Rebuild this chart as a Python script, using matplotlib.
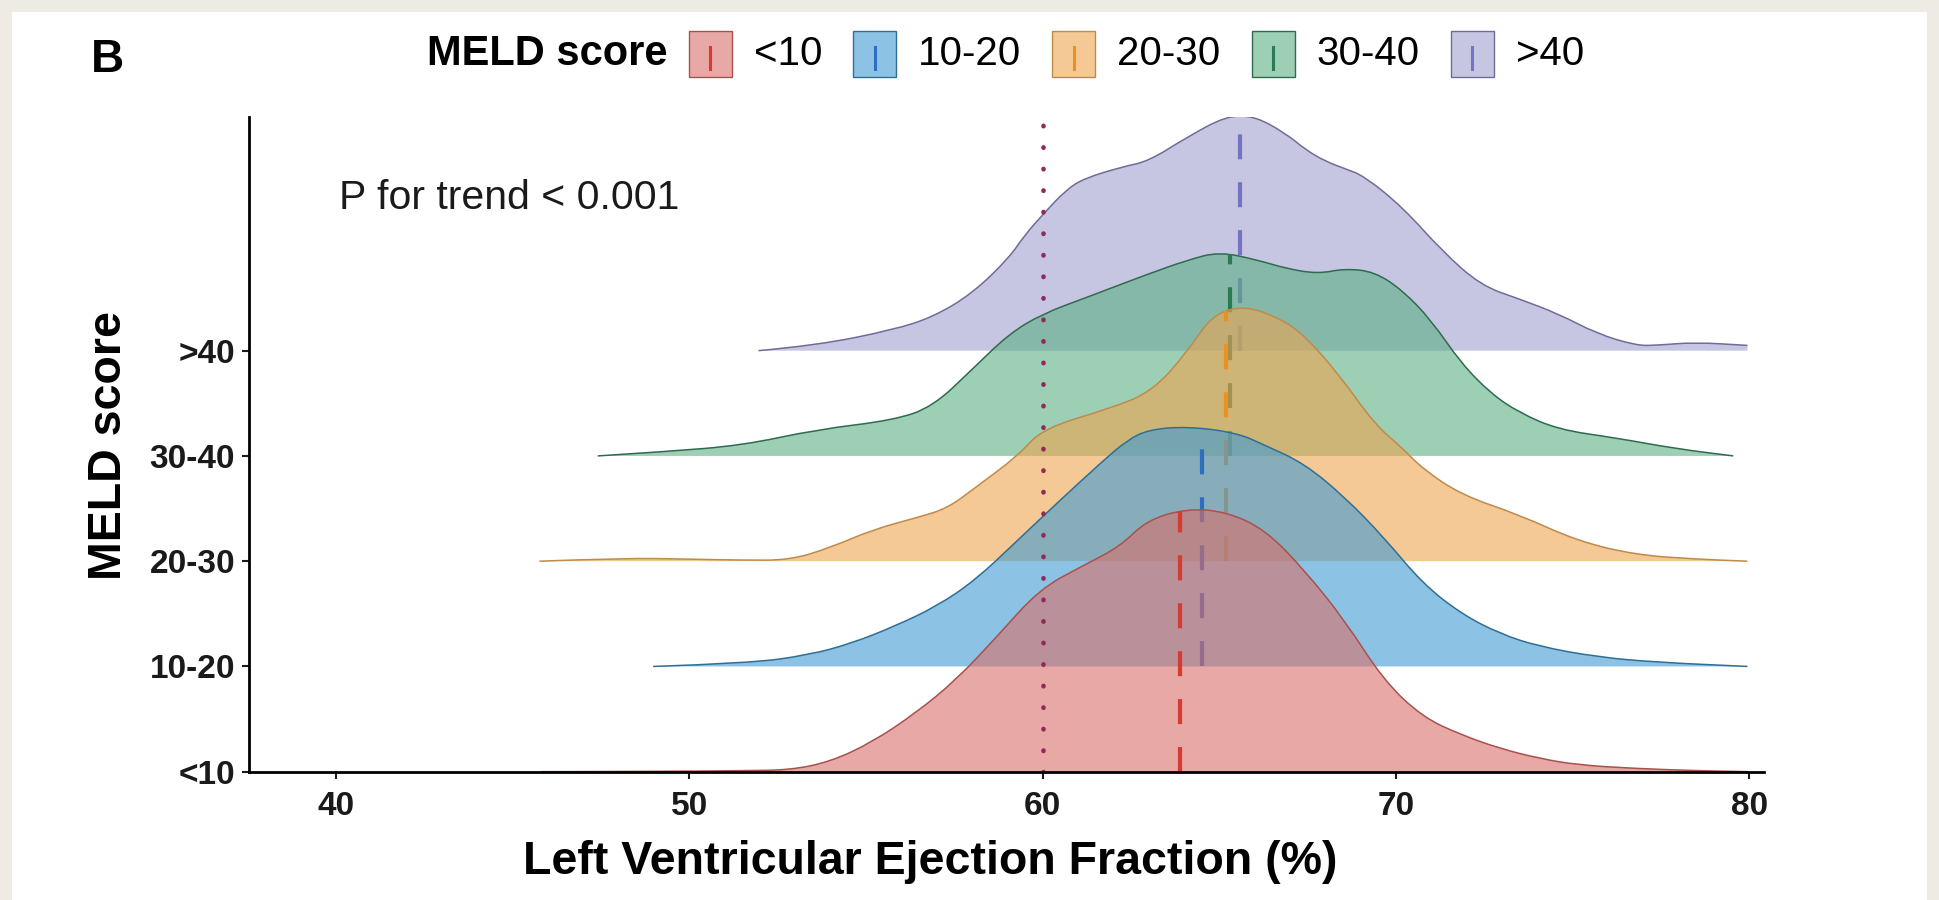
import numpy as np
import matplotlib
matplotlib.use("Agg")
import matplotlib.pyplot as plt
from matplotlib.patches import Rectangle, PathPatch
from matplotlib.path import Path

plt.rcParams['font.family'] = ['Liberation Sans', 'DejaVu Sans']

groups = ["<10", "10-20", "20-30", "30-40", ">40"]

# density outlines (LVEF %, ridge height) per MELD group
lvef_lt10 = [45.8, 48.0, 50.0, 51.5, 52.85, 54.0, 55.2, 56.4, 57.55, 58.7, 59.9, 61.1, 62.2,
             62.95, 64.1, 65.2, 66.3, 67.4, 68.55, 69.65, 70.75, 71.85, 72.95, 74.05, 75.15,
             76.8, 78.5, 80.0]
dens_lt10 = [0.0, 0.002, 0.005, 0.01, 0.016, 0.095, 0.285, 0.555, 0.87, 1.28, 1.73, 1.95, 2.14,
             2.39, 2.50, 2.47, 2.30, 1.92, 1.44, 0.87, 0.52, 0.35, 0.22, 0.127, 0.064,
             0.03, 0.01, 0.0]

lvef_10_20 = [48.98, 51.7, 53.4, 54.6, 55.8, 57.0, 58.1, 59.3, 60.5, 61.7, 62.4, 63.0, 64.1,
              65.5, 66.3, 67.4, 68.55, 69.65, 70.75, 71.85, 72.95, 74.05, 75.7, 77.35, 79.95]
dens_10_20 = [0.0, 0.03, 0.11, 0.22, 0.38, 0.57, 0.82, 1.20, 1.58, 1.95, 2.15, 2.25, 2.28,
              2.22, 2.10, 1.93, 1.61, 1.23, 0.79, 0.50, 0.31, 0.19, 0.09, 0.04, 0.0]

lvef_20_30 = [45.76, 48.2, 49.9, 51.5, 52.85, 54.0, 55.2, 56.4, 57.3, 58.1, 59.3, 60.0, 61.9,
              63.1, 64.1, 64.8, 65.7, 66.7, 67.4, 68.4, 69.4, 70.2, 70.75, 71.85, 73.5, 75.15,
              76.8, 78.45, 79.95]
dens_20_30 = [0.0, 0.03, 0.02, 0.01, 0.01, 0.13, 0.30, 0.41, 0.50, 0.70, 1.0, 1.26, 1.45,
              1.61, 1.99, 2.34, 2.43, 2.31, 2.15, 1.77, 1.30, 1.07, 0.88, 0.63, 0.44, 0.19,
              0.06, 0.02, 0.0]

lvef_30_40 = [47.41, 49.3, 51.5, 53.6, 55.8, 56.9, 58.0, 59.05, 60.0, 61.2, 63.0, 64.1, 65.0,
              66.1, 66.9, 67.8, 68.55, 69.4, 70.2, 71.0, 71.85, 72.7, 73.5, 74.6, 76.25, 77.9,
              79.55]
dens_30_40 = [0.0, 0.04, 0.10, 0.25, 0.34, 0.47, 0.82, 1.16, 1.35, 1.50, 1.73, 1.86, 1.94,
              1.86, 1.78, 1.73, 1.78, 1.75, 1.57, 1.29, 0.88, 0.59, 0.41, 0.25, 0.17, 0.07,
              0.0]

lvef_gt40 = [51.96, 53.6, 55.8, 56.9, 58.0, 59.05, 59.5, 60.0, 60.67, 61.2, 62.3, 63.0, 64.1,
             65.2, 66.0, 66.9, 67.44, 68.0, 68.55, 69.1, 70.2, 71.3, 72.4, 73.5, 74.6, 75.7,
             76.8, 77.35, 78.45, 79.95]
dens_gt40 = [0.0, 0.05, 0.20, 0.32, 0.54, 0.88, 1.10, 1.29, 1.53, 1.64, 1.75, 1.80, 2.03,
             2.23, 2.23, 2.06, 1.91, 1.80, 1.73, 1.66, 1.36, 0.95, 0.62, 0.49, 0.35, 0.16,
             0.05, 0.05, 0.08, 0.05]

lvef = [lvef_lt10, lvef_10_20, lvef_20_30, lvef_30_40, lvef_gt40]
dens = [dens_lt10, dens_10_20, dens_20_30, dens_30_40, dens_gt40]
medians = [63.9, 64.5, 65.2, 65.3, 65.6]
ref_lvef = 60

fill_cols = ["#D96E69", "#3F9BD5", "#EEA550", "#5AAF82", "#A3A0CF"]
edge_cols = ["#A8524E", "#2F6F95", "#C08A4A", "#2F6B50", "#6F6C9A"]
mid_cols = ["#D63A30", "#2F6DC0", "#EE9020", "#2A7A55", "#7573C4"]
alpha = 0.6


def ridge_path(x, y):
    # quadratic bezier through the outline points, for a smooth curve
    verts = [(x[0], y[0])]
    codes = [Path.MOVETO]
    for k in range(1, len(x) - 1):
        verts += [(x[k], y[k]), ((x[k] + x[k + 1]) / 2, (y[k] + y[k + 1]) / 2)]
        codes += [Path.CURVE3, Path.CURVE3]
    verts.append((x[-1], y[-1]))
    codes.append(Path.LINETO)
    return verts, codes


W, H = 1939, 900
fig = plt.figure(figsize=(W / 100, H / 100), dpi=100, facecolor="#EEEBE4")
fig.patches.append(Rectangle((12 / W, 0), (W - 24) / W, (H - 12) / H, transform=fig.transFigure,
                             facecolor="white", edgecolor="none", zorder=-10))
ax = fig.add_axes([249 / W, 1 - 771.7 / H, (1764 - 249) / W, (771.7 - 117) / H])
ax.set_facecolor("none")

# top ridge first so lower ridges sit in front
for i in reversed(range(len(groups))):
    x = np.array(lvef[i])
    d = np.array(dens[i])
    z = 2 + (4 - i) * 3
    cv, cc = ridge_path(x, i + d)
    area = Path([(x[0], i)] + cv + [(x[-1], i), (x[0], i)],
                [Path.MOVETO, Path.LINETO] + cc[1:] + [Path.LINETO, Path.CLOSEPOLY])
    ax.add_patch(PathPatch(area, facecolor=fill_cols[i], alpha=alpha, lw=0, zorder=z))
    ax.add_patch(PathPatch(Path(cv, cc), fill=False, edgecolor=edge_cols[i], lw=1.1,
                           zorder=z + 1))
    top = np.interp(medians[i], x, d)
    ax.plot([medians[i], medians[i]], [i, i + top], color=mid_cols[i], lw=3,
            linestyle=(0, (6, 5.5)), dash_capstyle="butt", zorder=z + 2)

ax.plot([ref_lvef, ref_lvef], [0, 6.2], color="#93285A", lw=3.3,
        linestyle=(0, (0.1, 4.6)), dash_capstyle="round", zorder=40)

ax.set_xlim(37.54, 80.42)
ax.set_ylim(0, 6.22)
ax.spines[["top", "right"]].set_visible(False)
for s in ["left", "bottom"]:
    ax.spines[s].set_linewidth(2)
    ax.spines[s].set_zorder(50)
ax.set_xticks([40, 50, 60, 70, 80])
ax.set_yticks(range(len(groups)))
ax.set_yticklabels(groups)
ax.tick_params(axis="both", length=5, width=1.5, labelsize=24, colors="#1A1A1A")
ax.tick_params(axis="x", pad=9)
ax.tick_params(axis="y", pad=5)
for lbl in ax.get_xticklabels() + ax.get_yticklabels():
    lbl.set_fontweight("bold")

ax.set_xlabel("Left Ventricular Ejection Fraction (%)", fontsize=33.5, fontweight="bold")
ax.xaxis.set_label_coords(0.4495, -0.138)
ax.xaxis.label.set_va("center")
ax.set_ylabel("MELD score", fontsize=33.5, fontweight="bold")
ax.yaxis.set_label_coords(-0.0924, 0.499)
ax.yaxis.label.set_va("center")

ax.text(40.1, 5.45, "P for trend < 0.001", fontsize=29.5, ha="left", va="center",
        color="#1A1A1A")

fig.text(107 / W, 1 - 60 / H, "B", fontsize=33, fontweight="bold", ha="center", va="center")

# legend row across the top
renderer = fig.canvas.get_renderer()
ly = 54
t = fig.text(427 / W, 1 - ly / H, "MELD score", fontsize=30, fontweight="bold",
             ha="left", va="center")
xpos = t.get_window_extent(renderer).x1 + 21
kw, kh = 43, 45
for i, g in enumerate(groups):
    y0 = H - ly - kh / 2
    fig.patches.append(Rectangle((xpos / W, y0 / H), kw / W, kh / H, transform=fig.transFigure,
                                 facecolor=fill_cols[i], alpha=alpha, edgecolor="none"))
    fig.patches.append(Rectangle((xpos / W, y0 / H), kw / W, kh / H, transform=fig.transFigure,
                                 facecolor="none", edgecolor=edge_cols[i], lw=1))
    fig.lines.append(plt.Line2D([(xpos + kw / 2) / W] * 2,
                                [(y0 + kh * 0.16) / H, (y0 + kh * 0.65) / H],
                                transform=fig.transFigure, color=mid_cols[i], lw=2.2))
    lt = fig.text((xpos + kw + 22) / W, 1 - ly / H, g, fontsize=29, ha="left", va="center")
    xpos = lt.get_window_extent(renderer).x1 + 31

fig.savefig("out.png", dpi=100, facecolor=fig.get_facecolor())
